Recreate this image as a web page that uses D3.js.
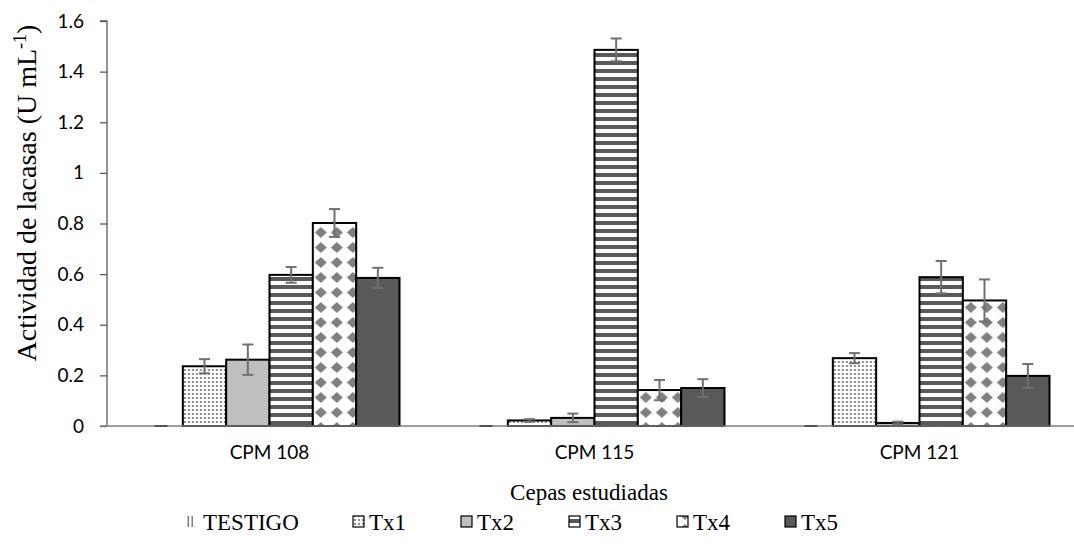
<!DOCTYPE html>
<html>
<head>
<meta charset="utf-8">
<script src="https://cdn.jsdelivr.net/npm/d3@7"></script>
<style>
  body { margin: 0; background: #fff; }
  .tick text { font-family: Lato, "Open Sans", sans-serif; fill: #000; }
  .axis_label { font-family: "Liberation Serif", "Times New Roman", serif; font-size: 23px; fill: #000; }
</style>
</head>
<body>
<div id="chart"></div>
<script>
let cepas = ['CPM 108', 'CPM 115', 'CPM 121']
let tratamientos = ['TESTIGO', 'Tx1', 'Tx2', 'Tx3', 'Tx4', 'Tx5']
// values per treatment, in the order of cepas
let testigo = [0, 0, 0]
let tx1 = [0.236, 0.022, 0.268]
let tx2 = [0.262, 0.032, 0.012]
let tx3 = [0.597, 1.486, 0.588]
let tx4 = [0.802, 0.142, 0.496]
let tx5 = [0.585, 0.150, 0.198]
// standard errors
let err_testigo = [0, 0, 0]
let err_tx1 = [0.028, 0.005, 0.02]
let err_tx2 = [0.06, 0.017, 0.005]
let err_tx3 = [0.031, 0.045, 0.064]
let err_tx4 = [0.055, 0.04, 0.083]
let err_tx5 = [0.04, 0.035, 0.047]
let yTicks = [0, 0.2, 0.4, 0.6, 0.8, 1, 1.2, 1.4, 1.6]

let valores = [testigo, tx1, tx2, tx3, tx4, tx5]
let errores = [err_testigo, err_tx1, err_tx2, err_tx3, err_tx4, err_tx5]

let data = []
cepas.forEach((c, i) => {
    tratamientos.forEach((t, j) => {
        data.push({ cepa: c, trat: t, val: valores[j][i], err: errores[j][i] })
    })
})

let svgWidth = 1074
let svgHeight = 549
// plot area runs a little past the right edge of the picture
let padding = { left: 107, right: -8, top: 21, bottom: 123 }

let svg = d3.select('#chart').append('svg')
    .attr('width', svgWidth)
    .attr('height', svgHeight)

// fill patterns
let defs = svg.append('defs')

let pTest = defs.append('pattern').attr('id', 'p_testigo')
    .attr('patternUnits', 'userSpaceOnUse').attr('width', 4).attr('height', 4)
pTest.append('rect').attr('x', 0.5).attr('width', 1.5).attr('height', 4).attr('fill', '#808080')

let pTx1 = defs.append('pattern').attr('id', 'p_tx1')
    .attr('patternUnits', 'userSpaceOnUse').attr('width', 4).attr('height', 4)
pTx1.append('rect').attr('width', 4).attr('height', 4).attr('fill', '#fff')
pTx1.append('rect').attr('x', 1).attr('y', 1).attr('width', 2).attr('height', 2).attr('fill', '#8c8c8c')

let pTx3 = defs.append('pattern').attr('id', 'p_tx3')
    .attr('patternUnits', 'userSpaceOnUse').attr('width', 8).attr('height', 8)
    .attr('y', padding.top)
pTx3.append('rect').attr('width', 8).attr('height', 8).attr('fill', '#fff')
pTx3.append('rect').attr('width', 8).attr('height', 4).attr('fill', '#595959')

let pTx4 = defs.append('pattern').attr('id', 'p_tx4')
    .attr('patternUnits', 'userSpaceOnUse').attr('width', 16).attr('height', 15)
pTx4.append('rect').attr('width', 16).attr('height', 15).attr('fill', '#fff')
pTx4.append('path').attr('d', 'M8,2 L14,7.5 L8,13 L2,7.5 Z').attr('fill', '#808080')

let fills = {
    'TESTIGO': 'url(#p_testigo)',
    'Tx1': 'url(#p_tx1)',
    'Tx2': '#bfbfbf',
    'Tx3': 'url(#p_tx3)',
    'Tx4': 'url(#p_tx4)',
    'Tx5': '#595959'
}

let x = d3.scaleBand()
    .domain(cepas)
    .range([padding.left, svgWidth - padding.right])
    .paddingInner(0.2)
    .paddingOuter(0.1)

let x1 = d3.scaleBand()
    .domain(tratamientos)
    .range([0, x.bandwidth()])

let y = d3.scaleLinear()
    .domain([0, 1.6])
    .range([svgHeight - padding.bottom, padding.top])

// y axis
let axis_y = d3.axisLeft(y)
    .tickValues(yTicks)
    .tickFormat(d => d)
    .tickSize(7)
    .tickPadding(16)
let gy = svg.append('g')
    .attr('transform', `translate(${padding.left}, 0)`)
    .call(axis_y)
gy.select('.domain').attr('stroke', '#595959').attr('stroke-width', 1.3).attr('d', `M-7,${y(1.6)}H0V${y(0)}`)
gy.selectAll('.tick line').attr('stroke', '#595959').attr('stroke-width', 1.3)
gy.selectAll('.tick text').attr('font-size', '19px')

// bars
let groups = svg.append('g')
    .selectAll('g')
    .data(data)
    .enter()
    .append('g')
    .attr('transform', d => `translate(${x(d.cepa) + x1(d.trat)}, 0)`)

groups.append('rect')
    .attr('class', d => 'bar ' + d.trat)
    .attr('x', 0)
    .attr('y', d => y(d.val))
    .attr('width', x1.bandwidth())
    .attr('height', d => y(0) - y(d.val))
    .attr('fill', d => fills[d.trat])
    .attr('stroke', d => d.trat == 'TESTIGO' ? 'none' : '#000')
    .attr('stroke-width', 2)

// error bars
let eb = groups.filter(d => d.err > 0)
    .append('g')
    .attr('stroke', '#707070')
    .attr('stroke-width', 2)
eb.append('line')
    .attr('x1', x1.bandwidth() / 2).attr('x2', x1.bandwidth() / 2)
    .attr('y1', d => y(d.val - d.err)).attr('y2', d => y(d.val + d.err))
eb.append('line')
    .attr('x1', x1.bandwidth() / 2 - 5.5).attr('x2', x1.bandwidth() / 2 + 5.5)
    .attr('y1', d => y(d.val + d.err)).attr('y2', d => y(d.val + d.err))
eb.append('line')
    .attr('x1', x1.bandwidth() / 2 - 5.5).attr('x2', x1.bandwidth() / 2 + 5.5)
    .attr('y1', d => y(d.val - d.err)).attr('y2', d => y(d.val - d.err))

// x axis
let axis_x = d3.axisBottom(x).tickSize(0).tickPadding(20)
let gx = svg.append('g')
    .attr('transform', `translate(0, ${y(0)})`)
    .call(axis_x)
gx.select('.domain').attr('stroke', '#7f7f7f').attr('stroke-width', 1.3)
    .attr('d', `M${padding.left - 7},0H${svgWidth}`)
gx.selectAll('.tick text').attr('font-size', '19px')

// TESTIGO zero bars: thin dark trace on baseline
svg.append('g')
    .selectAll('line')
    .data(data.filter(d => d.trat == 'TESTIGO'))
    .enter()
    .append('line')
    .attr('x1', d => x(d.cepa) + x1(d.trat) + 15)
    .attr('x2', d => x(d.cepa) + x1(d.trat) + 28)
    .attr('y1', y(0)).attr('y2', y(0))
    .attr('stroke', '#404040')
    .attr('stroke-width', 1.6)

// axis titles
svg.append('text')
    .attr('class', 'axis_label')
    .attr('text-anchor', 'middle')
    .attr('x', 589)
    .attr('y', 500)
    .text('Cepas estudiadas')

let yl = svg.append('text')
    .attr('class', 'axis_label')
    .attr('font-size', '28px')
    .style('font-size', '28px')
    .attr('text-anchor', 'middle')
    .attr('transform', `translate(36, 193) rotate(-90)`)
yl.append('tspan').text('Actividad de lacasas (U mL')
yl.append('tspan').attr('dy', -10).style('font-size', '18px').text('-1')
yl.append('tspan').attr('dy', 10).text(')')

// legend
let legendX = [187, 353, 461, 569, 677, 785]
let legend = svg.append('g')
    .selectAll('g')
    .data(tratamientos)
    .enter()
    .append('g')
    .attr('transform', (d, i) => `translate(${legendX[i]}, 522)`)

legend.append('rect')
    .attr('x', 0).attr('y', -6)
    .attr('width', d => d == 'TESTIGO' ? 7 : 11).attr('height', 11)
    .attr('fill', d => fills[d])
    .attr('stroke', d => d == 'TESTIGO' ? 'none' : '#000')
    .attr('stroke-width', 1.2)

legend.append('text')
    .attr('class', 'axis_label')
    .attr('x', 16)
    .attr('y', 8)
    .text(d => d)
</script>
</body>
</html>
